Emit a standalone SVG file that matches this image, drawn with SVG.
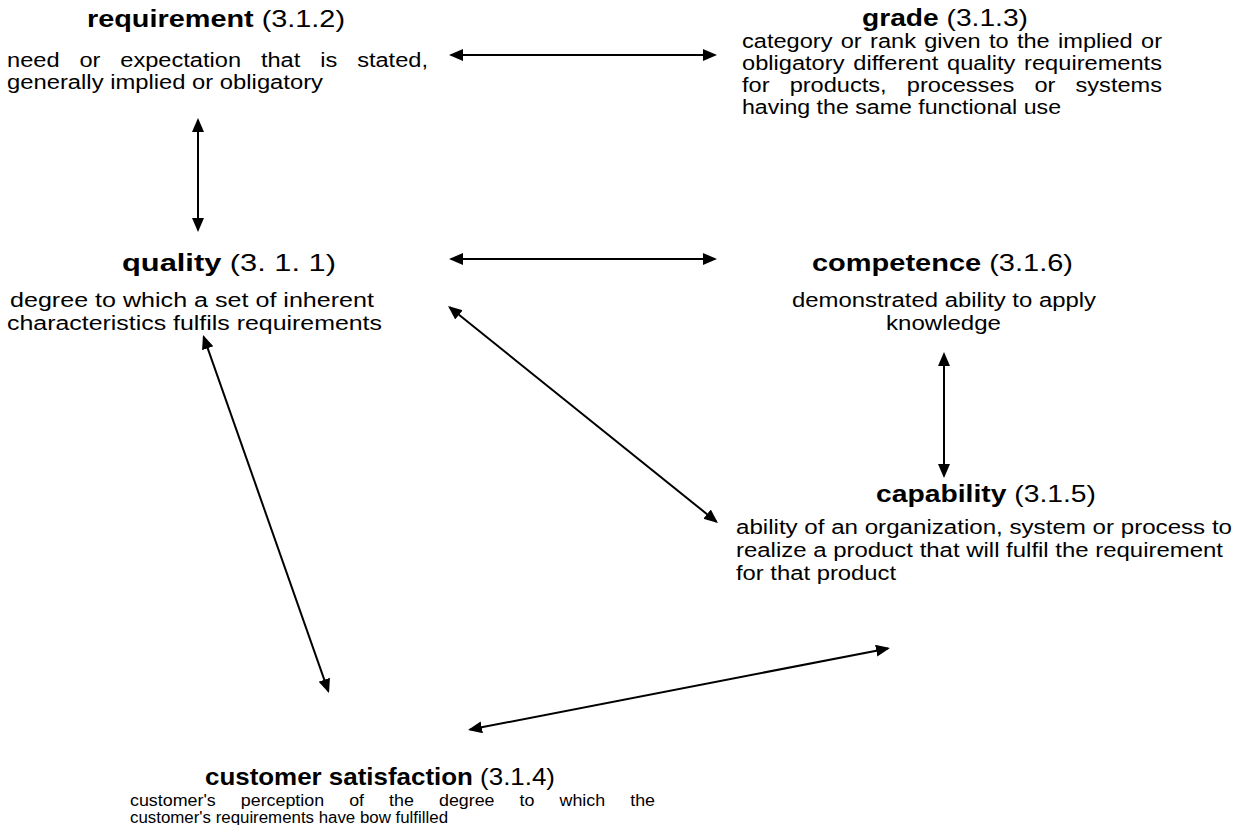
<svg xmlns="http://www.w3.org/2000/svg" width="1240" height="825" viewBox="0 0 1240 825">
<style>
text{font-family:"Liberation Sans",Arial,sans-serif;fill:#000}
.t{font-size:24px}
.b{font-weight:bold}
.d{font-size:20px}
.s{font-size:16px}
.c{stroke:#000;stroke-width:2;fill:none;marker-start:url(#ah);marker-end:url(#ah)}
</style>
<defs>
<marker id="ah" markerUnits="userSpaceOnUse" markerWidth="15" markerHeight="13" refX="12" refY="6" orient="auto-start-reverse" viewBox="0 0 15 13">
<path d="M0,0 L14,6 L0,12 z" fill="#000"/>
</marker>
</defs>
<rect width="1240" height="825" fill="#fff"/>
<g id="requirement">
<text class="t" x="87" y="27" textLength="258" lengthAdjust="spacingAndGlyphs"><tspan class="b">requirement</tspan> (3.1.2)</text>
<text class="d" x="7" y="67" word-spacing="11.3" textLength="421" lengthAdjust="spacingAndGlyphs">need or expectation that is stated,</text>
<text class="d" x="7" y="89" textLength="316" lengthAdjust="spacingAndGlyphs">generally implied or obligatory</text>
</g>
<g id="grade">
<text class="t" x="862" y="26" textLength="166" lengthAdjust="spacingAndGlyphs"><tspan class="b">grade</tspan> (3.1.3)</text>
<text class="d" x="742" y="48" word-spacing="1.5" textLength="420" lengthAdjust="spacingAndGlyphs">category or rank given to the implied or</text>
<text class="d" x="742" y="70" word-spacing="1.9" textLength="420" lengthAdjust="spacingAndGlyphs">obligatory different quality requirements</text>
<text class="d" x="742" y="92" word-spacing="11.5" textLength="420" lengthAdjust="spacingAndGlyphs">for products, processes or systems</text>
<text class="d" x="742" y="114" textLength="319" lengthAdjust="spacingAndGlyphs">having the same functional use</text>
</g>
<g id="quality">
<text class="t" x="122" y="271" textLength="214" lengthAdjust="spacingAndGlyphs"><tspan class="b">quality</tspan> (3. 1. 1)</text>
<text class="d" x="10" y="307" textLength="364" lengthAdjust="spacingAndGlyphs">degree to which a set of inherent</text>
<text class="d" x="7" y="330" textLength="375" lengthAdjust="spacingAndGlyphs">characteristics fulfils requirements</text>
</g>
<g id="competence">
<text class="t" x="812" y="271" textLength="261" lengthAdjust="spacingAndGlyphs"><tspan class="b">competence</tspan> (3.1.6)</text>
<text class="d" x="792" y="307" textLength="304" lengthAdjust="spacingAndGlyphs">demonstrated ability to apply</text>
<text class="d" x="886" y="330" textLength="115" lengthAdjust="spacingAndGlyphs">knowledge</text>
</g>
<g id="capability">
<text class="t" x="876" y="502" textLength="220" lengthAdjust="spacingAndGlyphs"><tspan class="b">capability</tspan> (3.1.5)</text>
<text class="d" x="736" y="534" textLength="496" lengthAdjust="spacingAndGlyphs">ability of an organization, system or process to</text>
<text class="d" x="736" y="557" textLength="487" lengthAdjust="spacingAndGlyphs">realize a product that will fulfil the requirement</text>
<text class="d" x="736" y="580" textLength="160" lengthAdjust="spacingAndGlyphs">for that product</text>
</g>
<g id="customer-satisfaction">
<text class="t" x="205" y="785" textLength="350" lengthAdjust="spacingAndGlyphs"><tspan class="b">customer satisfaction</tspan> (3.1.4)</text>
<text class="s" x="130" y="806" word-spacing="18" textLength="525" lengthAdjust="spacingAndGlyphs">customer's perception of the degree to which the</text>
<text class="s" x="130" y="823" textLength="318" lengthAdjust="spacingAndGlyphs">customer's requirements have bow fulfilled</text>
</g>
<g id="connectors">
<line class="c" x1="451" y1="55" x2="715" y2="55"/>
<line class="c" x1="198" y1="120" x2="198" y2="230"/>
<line class="c" x1="451" y1="259" x2="715" y2="259"/>
<line class="c" x1="449.6" y1="307.3" x2="716.4" y2="521.7"/>
<line class="c" x1="944" y1="354" x2="944" y2="476"/>
<line class="c" x1="203.7" y1="336.9" x2="328.3" y2="691.1"/>
<line class="c" x1="470" y1="729.6" x2="888" y2="648.4"/>
</g>
</svg>
